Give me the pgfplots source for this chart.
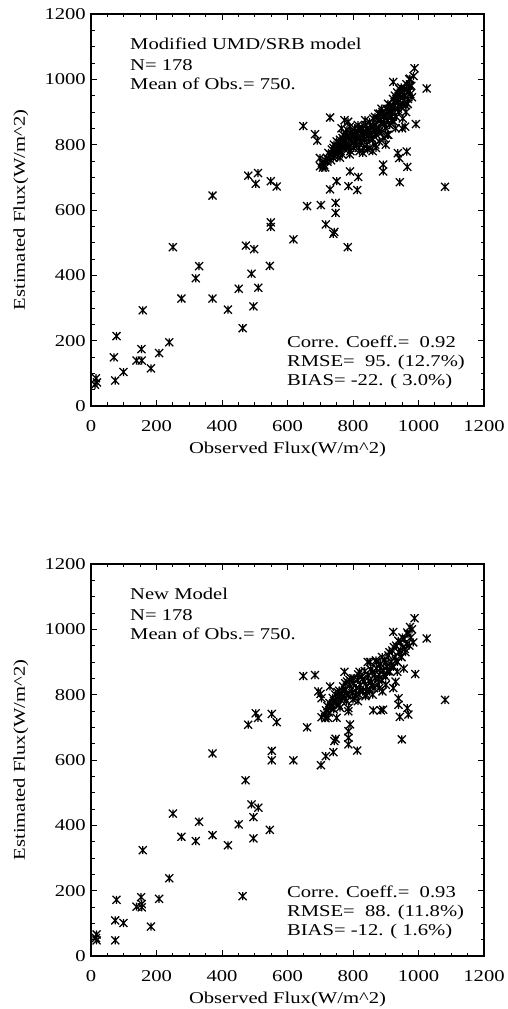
\documentclass[border=0pt]{standalone}
\usepackage{pgfplots}
\pgfplotsset{compat=1.18}
\usepackage{fontspec}
\setmainfont{Liberation Serif}[FakeStretch=1.25]
\pgfdeclareplotmark{idlast}{%
  \pgfpathmoveto{\pgfqpoint{0pt}{\pgfplotmarksize}}%
  \pgfpathlineto{\pgfqpoint{0pt}{-\pgfplotmarksize}}%
  \pgfpathmoveto{\pgfqpoint{-\pgfplotmarksize}{-\pgfplotmarksize}}%
  \pgfpathlineto{\pgfqpoint{\pgfplotmarksize}{\pgfplotmarksize}}%
  \pgfpathmoveto{\pgfqpoint{-\pgfplotmarksize}{\pgfplotmarksize}}%
  \pgfpathlineto{\pgfqpoint{\pgfplotmarksize}{-\pgfplotmarksize}}%
  \pgfusepathqstroke}
\pgfplotsset{
  idlaxis/.style={
    scale only axis, width=393pt, height=392pt,
    xmin=0, xmax=1200, ymin=0, ymax=1200,
    xtick={0,200,...,1200}, ytick={0,200,...,1200},
    minor x tick num=3, minor y tick num=3,
    tick align=inside, tick pos=both,
    major tick length=6pt, minor tick length=3.5pt,
    axis line style={line width=1.1pt},
    every tick/.style={line width=0.9pt, black},
    /pgf/number format/1000 sep={},
    /pgf/number format/assume math mode=true,
    xticklabel style={anchor=base, yshift=-25.7pt},
    yticklabel style={anchor=east, inner sep=0pt, xshift=-5pt},
    xlabel={Observed Flux(W/m\textasciicircum 2)},
    ylabel={Estimated Flux(W/m\textasciicircum 2)},
    xlabel style={at={(axis description cs:0.5,-0.12)}, anchor=base, inner sep=0pt},
    ylabel style={at={(axis description cs:-0.198,0.5)}, anchor=north, inner sep=0pt},
    clip=false,
  },
  idlpts/.style={only marks, mark=idlast, mark size=4pt, line width=1.25pt, black},
}
\begin{document}
\begin{tikzpicture}[font=\fontsize{16.5pt}{20pt}\selectfont]
\path[use as bounding box] (0,0) rectangle (508pt,1009pt);
% ---------------- top panel ----------------
\begin{axis}[idlaxis, at={(91pt,603pt)}, anchor=south west]
\addplot[idlpts] coordinates {
(15,85)(18,72)(12,65)(70,149)(78,214)(74,78)(99,104)(139,139)(155,139)(154,174)
(158,293)(183,115)(208,162)(239,195)(250,486)(276,329)(320,391)(330,428)(371,329)(418,295)
(451,359)(463,238)(473,491)(490,405)(496,305)(498,480)(511,362)(546,429)(618,510)(740,527)
(784,486)(549,562)(549,548)
(371,644)(480,705)(503,680)(510,713)(549,688)(567,672)(648,857)(660,612)(684,832)(691,812)
(702,615)(730,883)(774,875)(730,663)(750,688)(747,622)(747,591)(717,556)(743,533)(786,673)
(791,718)(816,701)(813,661)(892,739)(892,718)(943,685)(937,774)(941,759)(964,779)(966,732)
(959,855)(992,863)(988,1034)(1025,972)(1081,671)(923,992)(974,1002)(699,759)(699,734)
(705,745)(708,730)(712,738)(715,752)(720,760)(725,775)(730,770)(735,785)(740,790)(742,800)
(745,780)(748,795)(750,810)(752,770)(755,790)(758,805)(760,815)(762,780)(765,800)(768,820)
(770,830)(772,795)(775,810)(778,835)(780,790)(782,845)(785,800)(788,820)(790,855)(792,780)
(795,810)(798,840)(800,825)(802,790)(805,850)(808,815)(810,800)(812,835)(815,860)(818,790)
(820,820)(822,845)(825,805)(828,830)(830,850)(832,790)(835,815)(838,860)(840,835)(842,800)
(845,845)(848,820)(850,870)(852,790)(855,835)(858,855)(860,815)(862,880)(865,840)(868,800)
(870,860)(872,830)(875,880)(878,850)(880,810)(882,895)(885,865)(888,840)(890,900)(892,870)
(895,820)(898,890)(900,850)(902,910)(905,875)(908,830)(910,900)(912,860)(915,920)(918,885)
(920,900)(922,940)(925,870)(928,950)(930,910)(932,885)(935,960)(938,930)(940,900)(942,970)
(945,945)(948,915)(950,960)(952,880)(955,935)(958,950)(960,920)(962,900)(965,960)(968,940)
(970,965)(972,1000)(975,955)(978,980)(980,945)(985,1010)
(860,780)(830,775)(870,790)(900,800)(760,760)(790,770)(740,760)(845,785)(765,850)(785,870)
(820,780)(880,840)(905,830)(930,850)(950,850)
(715,730)(722,748)(733,752)(738,770)(744,765)(751,785)(756,775)(763,795)(767,770)(773,815)
(777,800)(783,825)(787,790)(793,835)(797,825)(803,805)(807,840)(813,820)(817,850)(823,810)
(827,845)(833,825)(837,875)(843,850)(847,830)(853,860)(857,820)(863,855)(867,885)(873,845)
(877,895)(883,875)(887,910)(893,885)(897,860)(903,895)(907,925)(913,905)(917,875)(923,915)
(927,930)(933,940)(937,910)(943,955)(947,975)(953,925)(957,970)(963,985)(967,925)(973,980)
};
\node[anchor=base west, inner sep=0pt] at (axis cs:119,1090) {Modified UMD/SRB model};
\node[anchor=base west, inner sep=0pt] at (axis cs:119,1028) {N= 178};
\node[anchor=base west, inner sep=0pt] at (axis cs:119,968) {Mean of Obs.= 750.};
\node[anchor=base west, inner sep=0pt] at (axis cs:598,180) {Corre. Coeff.=\ \ 0.92};
\node[anchor=base west, inner sep=0pt] at (axis cs:598,121) {RMSE=\ \ 95. (12.7\%)};
\node[anchor=base west, inner sep=0pt] at (axis cs:598,62) {BIAS= -22. (\ 3.0\%)};
\end{axis}
% ---------------- bottom panel ----------------
\begin{axis}[idlaxis, at={(91pt,53pt)}, anchor=south west]
\addplot[idlpts] coordinates {
(17,66)(17,48)(15,55)(74,109)(78,172)(74,48)(99,101)(139,151)(155,149)(155,159)
(153,180)(158,324)(183,90)(208,175)(239,238)(250,436)(276,365)(320,352)(330,411)(371,370)
(418,339)(451,403)(463,183)(472,538)(490,464)(496,425)(496,360)(511,454)(546,386)
(371,620)(480,708)(503,743)(510,729)(552,741)(552,628)(552,599)(567,716)(618,599)(648,857)
(684,860)(660,700)(694,810)(701,802)(704,789)(702,584)(717,612)(740,624)(743,658)(747,665)
(730,825)(774,870)(704,731)(724,729)(750,729)(786,648)(786,668)(786,688)(791,709)(813,629)
(786,759)(786,749)(862,752)(892,754)(885,752)(923,820)(939,789)(939,769)(949,663)(943,732)
(969,739)(966,759)(990,863)(988,1034)(1025,972)(1081,784)(923,992)(974,1007)
(712,740)(718,752)(722,765)(728,775)(732,760)(738,790)(742,780)(746,800)(750,770)(754,795)
(758,812)(762,785)(766,805)(770,825)(774,790)(778,815)(782,840)(786,800)(790,830)(794,850)
(798,805)(802,835)(806,790)(810,820)(814,845)(818,800)(822,830)(826,855)(830,810)(834,840)
(838,795)(842,825)(846,860)(850,815)(852,900)(856,840)(860,870)(864,820)(868,850)(872,880)
(876,830)(880,860)(884,895)(888,845)(892,875)(896,905)(900,855)(904,885)(908,920)(912,870)
(916,900)(920,935)(924,885)(928,915)(932,950)(936,900)(940,930)(944,960)(948,915)(952,945)
(956,970)(960,930)(964,955)(968,985)(972,950)(976,975)(980,1000)(984,960)
(760,760)(800,785)(840,800)(880,820)(900,830)(935,870)(955,880)(820,870)(845,900)(870,905)
(780,780)(815,780)(860,800)(890,810)(930,840)
(716,728)(726,745)(736,768)(741,755)(747,782)(753,808)(757,768)(764,792)(769,812)(776,835)
(781,798)(789,845)(796,818)(801,850)(808,798)(816,862)(821,815)(829,848)(836,872)(841,810)
(848,842)(854,878)(859,830)(866,862)(871,900)(878,848)(883,880)(889,915)(894,862)(901,898)
(906,872)(911,930)(918,890)(925,945)(931,905)(938,965)(945,935)(951,975)(958,940)(966,990)
};
\node[anchor=base west, inner sep=0pt] at (axis cs:119,1090) {New Model};
\node[anchor=base west, inner sep=0pt] at (axis cs:119,1028) {N= 178};
\node[anchor=base west, inner sep=0pt] at (axis cs:119,968) {Mean of Obs.= 750.};
\node[anchor=base west, inner sep=0pt] at (axis cs:598,180) {Corre. Coeff.=\ \ 0.93};
\node[anchor=base west, inner sep=0pt] at (axis cs:598,121) {RMSE=\ \ 88. (11.8\%)};
\node[anchor=base west, inner sep=0pt] at (axis cs:598,62) {BIAS= -12. (\ 1.6\%)};
\end{axis}
\end{tikzpicture}
\end{document}
